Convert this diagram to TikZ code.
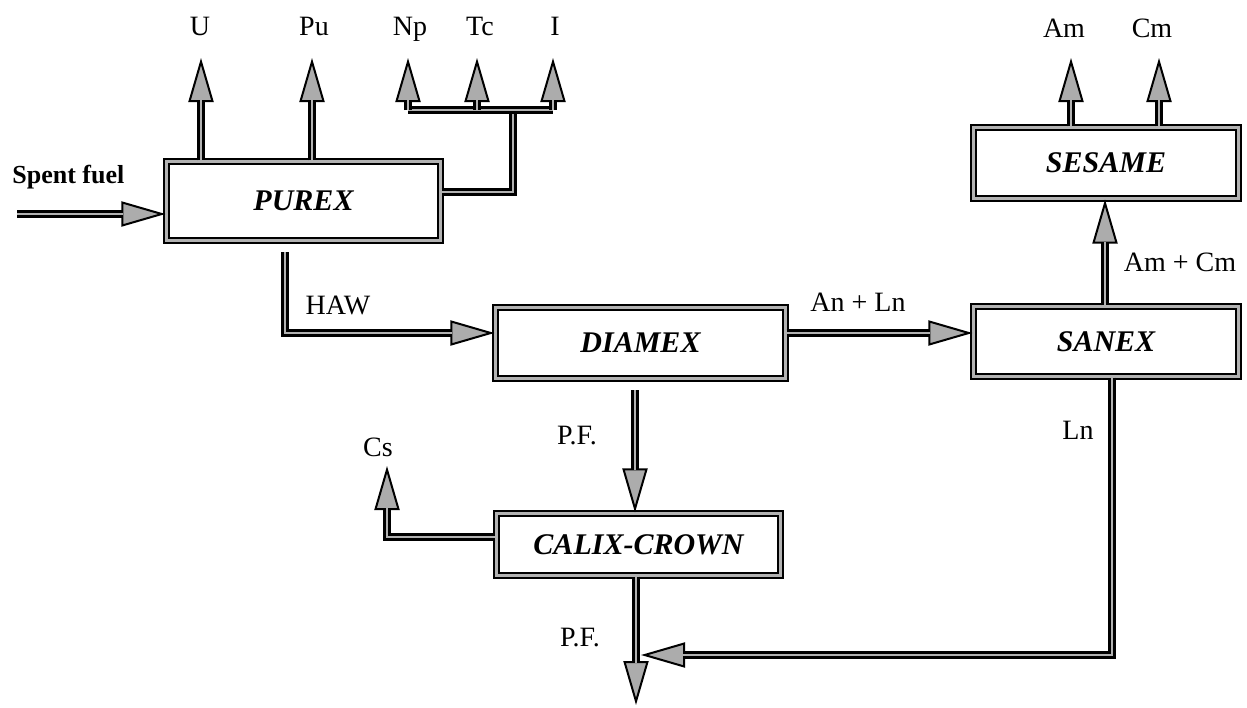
\documentclass[tikz,border=0pt]{standalone}
\usepackage{fontspec}
\setmainfont{Liberation Serif}
\usetikzlibrary{arrows.meta,calc}
\begin{document}
\begin{tikzpicture}[x=0.5pt,y=-0.5pt,
 box/.style={draw=black, double=gray!60, double distance=1.3pt, line width=1.05pt, fill=white, inner sep=0pt, font=\fontsize{15}{18}\selectfont\bfseries\itshape},
 lbl/.style={inner sep=0pt, anchor=base, font=\fontsize{14}{16}\selectfont},
 flow/.style={draw=black, line width=3.6pt, -{Triangle[length=22pt,width=12.5pt,fill=gray!65,line width=1pt]}, postaction={draw=gray!60, line width=1.3pt, -, shorten >=21pt}},
 pipe/.style={draw=black, line width=3.6pt, postaction={draw=gray!60, line width=1.3pt}},
]
\useasboundingbox (0,0) rectangle (1247,707);

% boxes
\node[box, minimum width=137pt, minimum height=39.5pt] (purex) at (303.5,201) {PUREX};
\node[box, minimum width=145pt, minimum height=35.5pt] (diamex) at (640.5,343) {DIAMEX};
\node[box, minimum width=132.5pt, minimum height=35pt] (sanex) at (1106,341.5) {SANEX};
\node[box, minimum width=132.5pt, minimum height=35.5pt] (sesame) at (1106,163) {SESAME};
\node[box, minimum width=142pt, minimum height=31pt] (calix) at (638.5,544.5) {CALIX-CROWN};

% coordinates
\coordinate (sf) at (17,214);
\coordinate (uT) at (201,58);
\coordinate (puT) at (312,58);
\coordinate (npB) at (408,110);
\coordinate (tcB) at (477,110);
\coordinate (iB) at (553,110);
\coordinate (npT) at (408,58);
\coordinate (tcT) at (477,58);
\coordinate (iT) at (553,58);
\coordinate (pj) at (513,110);
\coordinate (pjY) at (0,192);
\coordinate (haw0) at (285,252);
\coordinate (anY) at (0,333);
\coordinate (amcmX) at (1105,0);
\coordinate (amT) at (1071,58);
\coordinate (cmT) at (1159,58);
\coordinate (pf0) at (635,390);
\coordinate (csY) at (0,537);
\coordinate (csT) at (387,466);
\coordinate (pfEnd) at (636,705);
\coordinate (lnX) at (1112,0);
\coordinate (lnEnd) at (641,655);

% connectors
\draw[flow] (sf) -- (sf -| purex.west);
\draw[flow] (uT |- purex.north) -- (uT);
\draw[flow] (puT |- purex.north) -- (puT);
\draw[pipe] (purex.east |- pjY) -| (pj);
\draw[pipe] (npB) -- (iB);
\draw[flow] (npB) -- (npT);
\draw[flow] (tcB) -- (tcT);
\draw[flow] (iB) -- (iT);
\draw[flow] (haw0) |- (diamex.west |- anY);
\draw[flow] (diamex.east |- anY) -- (sanex.west |- anY);
\draw[flow] (sanex.north -| amcmX) -- (sesame.south -| amcmX);
\draw[flow] (amT |- sesame.north) -- (amT);
\draw[flow] (cmT |- sesame.north) -- (cmT);
\draw[flow] (pf0) -- (calix.north -| pf0);
\draw[flow] (calix.west |- csY) -| (csT);
\draw[flow] (calix.south -| pfEnd) -- (pfEnd);
\draw[flow] (sanex.south -| lnX) |- (lnEnd);

% labels
\node[lbl, anchor=base west, font=\fontsize{13}{16}\selectfont\bfseries] (lsf) at (12,183) {Spent fuel};
\node[lbl] (lU) at (200,35) {U};
\node[lbl] (lPu) at (314,35) {Pu};
\node[lbl] (lNp) at (410,35) {Np};
\node[lbl] (lTc) at (480,35) {Tc};
\node[lbl] (lI) at (555,35) {I};
\node[lbl] (lAm) at (1064,37) {Am};
\node[lbl] (lCm) at (1152,37) {Cm};
\node[lbl] (lHAW) at (338,314) {HAW};
\node[lbl] (lAnLn) at (858,311) {An + Ln};
\node[lbl] (lAmCm) at (1180,271) {Am + Cm};
\node[lbl] (lLn) at (1078,439) {Ln};
\node[lbl] (lPF1) at (577,444) {P.F.};
\node[lbl] (lPF2) at (580,646) {P.F.};
\node[lbl] (lCs) at (378,456) {Cs};
\end{tikzpicture}
\end{document}
